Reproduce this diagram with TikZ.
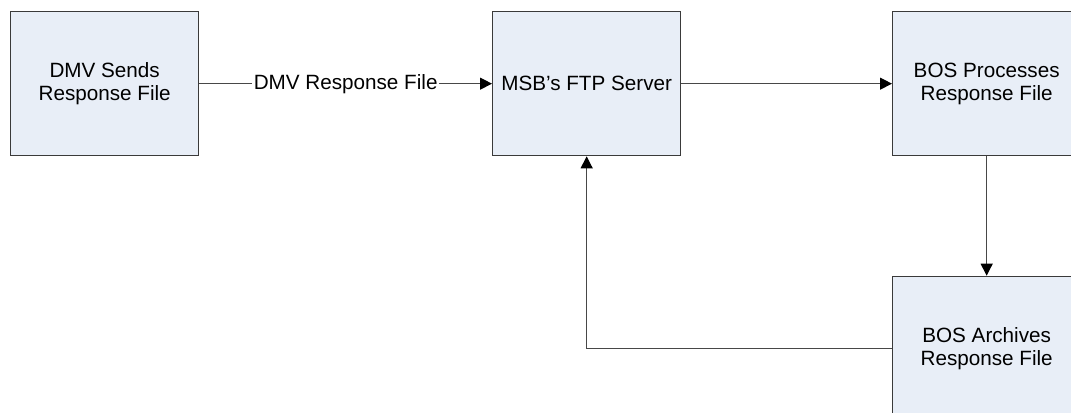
\documentclass[tikz,border=0pt]{standalone}
\usepackage{fontspec}
\setmainfont{Liberation Sans}
\usepackage{xcolor}
\usetikzlibrary{arrows.meta,positioning}
\definecolor{boxfill}{HTML}{E8EEF7}
\definecolor{boxline}{HTML}{3A3A3A}
\definecolor{linegray}{HTML}{484848}

\begin{document}
\begin{tikzpicture}[
  stepbox/.style={draw=boxline,line width=1pt,fill=boxfill,
    minimum width=141pt,minimum height=108pt,align=center,
    inner sep=0pt,font=\fontsize{15.5}{17.3}\selectfont},
  arrow/.style={-{Triangle[length=9pt,width=9pt,black]},line width=0.9pt,color=linegray},
  tag/.style={fill=white,text=black,inner sep=1pt,font=\fontsize{15.5}{17.3}\selectfont}
]
\useasboundingbox (0,0) rectangle (803.25pt,-309pt);
\node[stepbox,anchor=north west] (dmv) at (7.5pt,-8.25pt) {DMV Sends\\Response File};
\node[stepbox,right=219.5pt of dmv] (ftp) {MSB's FTP Server};
\node[stepbox,right=158pt of ftp] (process) {BOS Processes\\Response File};
\node[stepbox,below=89.5pt of process] (archive) {BOS Archives\\Response File};
\draw[arrow] (dmv) -- node[tag]{DMV Response File} (ftp);
\draw[arrow] (ftp) -- (process);
\draw[arrow] (process) -- (archive);
\draw[arrow] (archive.west) -| (ftp.south);
\end{tikzpicture}
\end{document}
